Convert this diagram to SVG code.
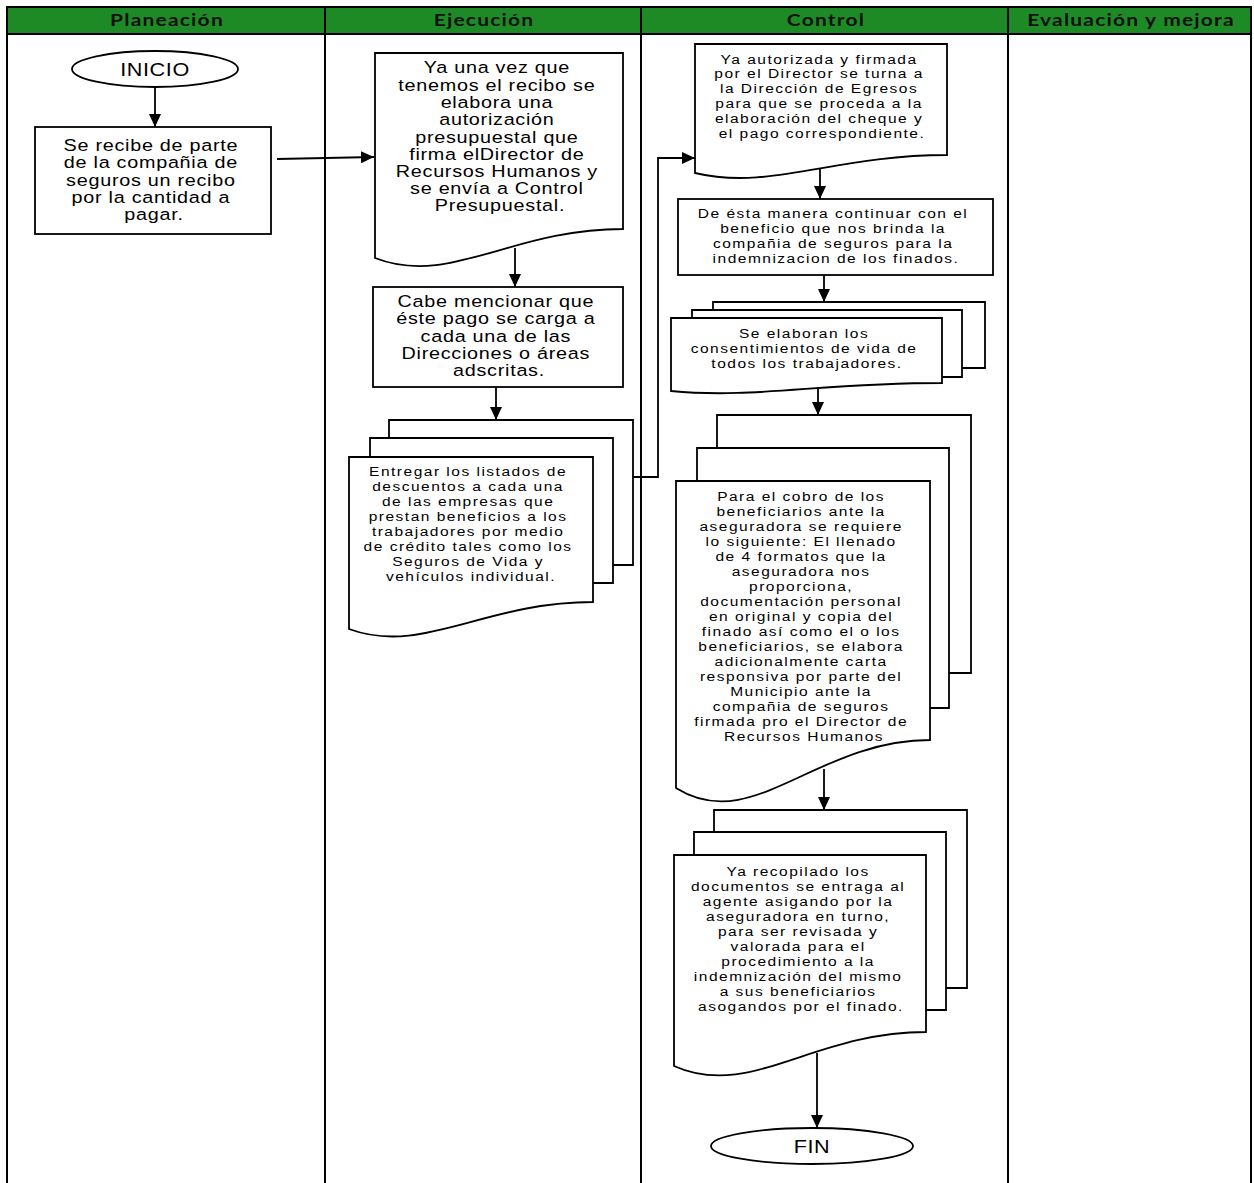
<svg xmlns="http://www.w3.org/2000/svg" width="1254" height="1183" viewBox="0 0 1254 1183">
  <style>
    .lane { fill: none; stroke: #000; stroke-width: 2; }
    .head { fill: #1e8a26; stroke: #000; stroke-width: 2; }
    .htxt { font-family: Lato, "Liberation Sans", sans-serif; font-weight: 700; font-size: 17.5px; letter-spacing: 1px; fill: #111; text-anchor: middle; }
    .shape { fill: #fff; stroke: #000; stroke-width: 1.8; }
    .edge { fill: none; stroke: #000; stroke-width: 1.8; }
    .big { font-family: "Liberation Sans", Arial, sans-serif; font-size: 16.5px; letter-spacing: 0.6px; fill: #000; text-anchor: middle; }
    .small { font-family: "Liberation Sans", Arial, sans-serif; font-size: 13.5px; letter-spacing: 1.3px; fill: #000; text-anchor: middle; }
    .term { font-family: "Liberation Sans", Arial, sans-serif; font-size: 18px; letter-spacing: 0.5px; fill: #000; text-anchor: middle; }
  </style>
  <defs>
    <marker id="arrow" viewBox="0 0 13 12" refX="13" refY="6" markerWidth="13" markerHeight="12" markerUnits="userSpaceOnUse" orient="auto">
      <path d="M0,0 L13,6 L0,12 Z" fill="#000"/>
    </marker>
  </defs>

  <rect width="1254" height="1183" fill="#fff"/>

  <!-- swimlane table; labels are widened 1.2x about their centre -->
  <g id="lanes">
    <rect class="head" x="7" y="7" width="1244" height="27"/>
    <line class="lane" x1="7" y1="7" x2="7" y2="1183"/>
    <line class="lane" x1="325" y1="7" x2="325" y2="1183"/>
    <line class="lane" x1="641" y1="7" x2="641" y2="1183"/>
    <line class="lane" x1="1008" y1="7" x2="1008" y2="1183"/>
    <line class="lane" x1="1251" y1="7" x2="1251" y2="1183"/>
    <text class="htxt" x="167" y="26" transform="matrix(1.2 0 0 1 -33.4 0)">Planeación</text>
    <text class="htxt" x="484" y="26" transform="matrix(1.2 0 0 1 -96.8 0)">Ejecución</text>
    <text class="htxt" x="826" y="26" transform="matrix(1.2 0 0 1 -165.2 0)">Control</text>
    <text class="htxt" x="1131" y="26" transform="matrix(1.2 0 0 1 -226.2 0)">Evaluación y mejora</text>
  </g>

  <!-- connectors -->
  <g id="connectors">
    <line class="edge" x1="155" y1="87" x2="155" y2="127" marker-end="url(#arrow)"/>
    <line class="edge" x1="277" y1="159" x2="374" y2="157" marker-end="url(#arrow)"/>
    <line class="edge" x1="515" y1="248" x2="515" y2="287" marker-end="url(#arrow)"/>
    <line class="edge" x1="496" y1="387" x2="496" y2="420" marker-end="url(#arrow)"/>
    <polyline class="edge" points="633,477 658,477 658,158 695,158" marker-end="url(#arrow)"/>
    <line class="edge" x1="820" y1="169" x2="820" y2="199" marker-end="url(#arrow)"/>
    <line class="edge" x1="824" y1="275" x2="824" y2="302" marker-end="url(#arrow)"/>
    <line class="edge" x1="818" y1="389" x2="818" y2="415" marker-end="url(#arrow)"/>
    <line class="edge" x1="824" y1="769" x2="824" y2="810" marker-end="url(#arrow)"/>
    <line class="edge" x1="817" y1="1053" x2="817" y2="1128" marker-end="url(#arrow)"/>
  </g>

  <!-- Planeación -->
  <g id="inicio">
    <ellipse class="shape" cx="155" cy="69" rx="83" ry="18"/>
    <text class="term" x="155" y="76" transform="matrix(1.2 0 0 1 -31 0)">INICIO</text>
  </g>

  <g id="recibo">
    <rect class="shape" x="35" y="127" width="236" height="107"/>
    <text class="big" transform="matrix(1.2 0 0 1 -30.8 0)">
      <tspan x="154" y="151">Se recibe de parte</tspan>
      <tspan x="154" y="168">de la compañia de</tspan>
      <tspan x="154" y="186">seguros un recibo</tspan>
      <tspan x="154" y="203">por la cantidad a</tspan>
      <tspan x="154" y="220">pagar.</tspan>
    </text>
  </g>

  <!-- Ejecución -->
  <g id="autorizacion">
    <path class="shape" d="M375,53 H623 V229 C511.4,229 449.4,287 375,258 Z"/>
    <text class="big" transform="matrix(1.2 0 0 1 -100 0)">
      <tspan x="500" y="73">Ya una vez que</tspan>
      <tspan x="500" y="91">tenemos el recibo se</tspan>
      <tspan x="500" y="108">elabora una</tspan>
      <tspan x="500" y="125">autorización</tspan>
      <tspan x="500" y="143">presupuestal que</tspan>
      <tspan x="500" y="160">firma elDirector de</tspan>
      <tspan x="500" y="177">Recursos Humanos y</tspan>
      <tspan x="500" y="194">se envía a Control</tspan>
      <tspan x="500" y="211">Presupuestal.</tspan>
    </text>
  </g>

  <g id="cargo">
    <rect class="shape" x="373" y="287" width="250" height="100"/>
    <text class="big" transform="matrix(1.2 0 0 1 -99.8 0)">
      <tspan x="499" y="307">Cabe mencionar que</tspan>
      <tspan x="499" y="324">éste pago se carga a</tspan>
      <tspan x="499" y="342">cada una de las</tspan>
      <tspan x="499" y="359">Direcciones o áreas</tspan>
      <tspan x="499" y="376">adscritas.</tspan>
    </text>
  </g>

  <g id="listados">
    <path class="shape" d="M389,438 V420 H633 V565 H613"/>
    <path class="shape" d="M370,457 V438 H613 V583 H593"/>
    <path class="shape" d="M349,457 H593 V602 C483.2,602 422.2,656 349,629 Z"/>
    <text class="small" transform="matrix(1.15 0 0 1 -70.65 0)">
      <tspan x="471" y="476">Entregar los listados de</tspan>
      <tspan x="471" y="491">descuentos a cada una</tspan>
      <tspan x="471" y="506">de las empresas que</tspan>
      <tspan x="471" y="521">prestan beneficios a los</tspan>
      <tspan x="471" y="536">trabajadores por medio</tspan>
      <tspan x="471" y="551">de crédito tales como los</tspan>
      <tspan x="471" y="566">Seguros de Vida y</tspan>
      <tspan x="471" y="581">vehículos individual.</tspan>
    </text>
  </g>

  <!-- Control -->
  <g id="egresos">
    <path class="shape" d="M695,44 H947 V155 C833.6,155 770.6,191 695,173 Z"/>
    <text class="small" transform="matrix(1.15 0 0 1 -123.3 0)">
      <tspan x="822" y="64">Ya autorizada  y firmada</tspan>
      <tspan x="822" y="78">por el Director se turna a</tspan>
      <tspan x="822" y="93">la Dirección de Egresos</tspan>
      <tspan x="822" y="108">para que se proceda a la</tspan>
      <tspan x="822" y="123">elaboración del cheque y</tspan>
      <tspan x="822" y="138">el pago correspondiente.</tspan>
    </text>
  </g>

  <g id="beneficio">
    <rect class="shape" x="678" y="199" width="315" height="76"/>
    <text class="small" transform="matrix(1.15 0 0 1 -125.4 0)">
      <tspan x="836" y="218">De ésta manera continuar con el</tspan>
      <tspan x="836" y="233">beneficio que nos brinda la</tspan>
      <tspan x="836" y="248">compañia de seguros para la</tspan>
      <tspan x="836" y="263">indemnizacion de los finados.</tspan>
    </text>
  </g>

  <g id="consentimientos">
    <path class="shape" d="M713,310 V302 H985 V368 H962"/>
    <path class="shape" d="M692,318 V310 H962 V377 H942"/>
    <path class="shape" d="M671,318 H942 V383 C820,383 752.3,399 671,391 Z"/>
    <text class="small" transform="matrix(1.15 0 0 1 -121.05 0)">
      <tspan x="807" y="338">Se elaboran  los</tspan>
      <tspan x="807" y="353">consentimientos de vida de</tspan>
      <tspan x="807" y="368">todos los trabajadores.</tspan>
    </text>
  </g>

  <g id="requisitos">
    <path class="shape" d="M717,448 V415 H971 V673 H949"/>
    <path class="shape" d="M697,481 V448 H949 V708 H930"/>
    <path class="shape" d="M676,481 H930 V740 C815.7,740 752.2,836 676,788 Z"/>
    <text class="small" transform="matrix(1.15 0 0 1 -120.6 0)">
      <tspan x="804" y="501">Para el cobro de los</tspan>
      <tspan x="804" y="516">beneficiarios ante la</tspan>
      <tspan x="804" y="531">aseguradora  se requiere</tspan>
      <tspan x="804" y="546">lo siguiente:  El llenado</tspan>
      <tspan x="804" y="561">de 4 formatos que la</tspan>
      <tspan x="804" y="576">aseguradora  nos</tspan>
      <tspan x="804" y="591">proporciona,</tspan>
      <tspan x="804" y="606">documentación personal</tspan>
      <tspan x="804" y="621">en original  y copia del</tspan>
      <tspan x="804" y="636">finado así como el o los</tspan>
      <tspan x="804" y="651">beneficiarios, se elabora</tspan>
      <tspan x="804" y="666">adicionalmente carta</tspan>
      <tspan x="804" y="681">responsiva por parte del</tspan>
      <tspan x="804" y="696">Municipio  ante la</tspan>
      <tspan x="804" y="711">compañia de seguros</tspan>
      <tspan x="804" y="726">firmada pro el Director de</tspan>
      <tspan x="804" y="741">Recursos Humanos</tspan>
    </text>
  </g>

  <g id="entrega">
    <path class="shape" d="M714,832 V810 H967 V988 H946"/>
    <path class="shape" d="M694,855 V832 H946 V1010 H926"/>
    <path class="shape" d="M674,855 H926 V1032 C812.6,1032 749.6,1100 674,1066 Z"/>
    <text class="small" transform="matrix(1.15 0 0 1 -120.15 0)">
      <tspan x="801" y="876">Ya recopilado  los</tspan>
      <tspan x="801" y="891">documentos se entraga al</tspan>
      <tspan x="801" y="906">agente asigando por la</tspan>
      <tspan x="801" y="921">aseguradora  en turno,</tspan>
      <tspan x="801" y="936">para ser revisada y</tspan>
      <tspan x="801" y="951">valorada para  el</tspan>
      <tspan x="801" y="966">procedimiento a la</tspan>
      <tspan x="801" y="981">indemnización  del mismo</tspan>
      <tspan x="801" y="996">a sus beneficiarios</tspan>
      <tspan x="801" y="1011">asogandos por el finado.</tspan>
    </text>
  </g>

  <g id="fin">
    <ellipse class="shape" cx="812" cy="1146" rx="101" ry="18"/>
    <text class="term" x="812" y="1153" transform="matrix(1.2 0 0 1 -162.4 0)">FIN</text>
  </g>
</svg>
